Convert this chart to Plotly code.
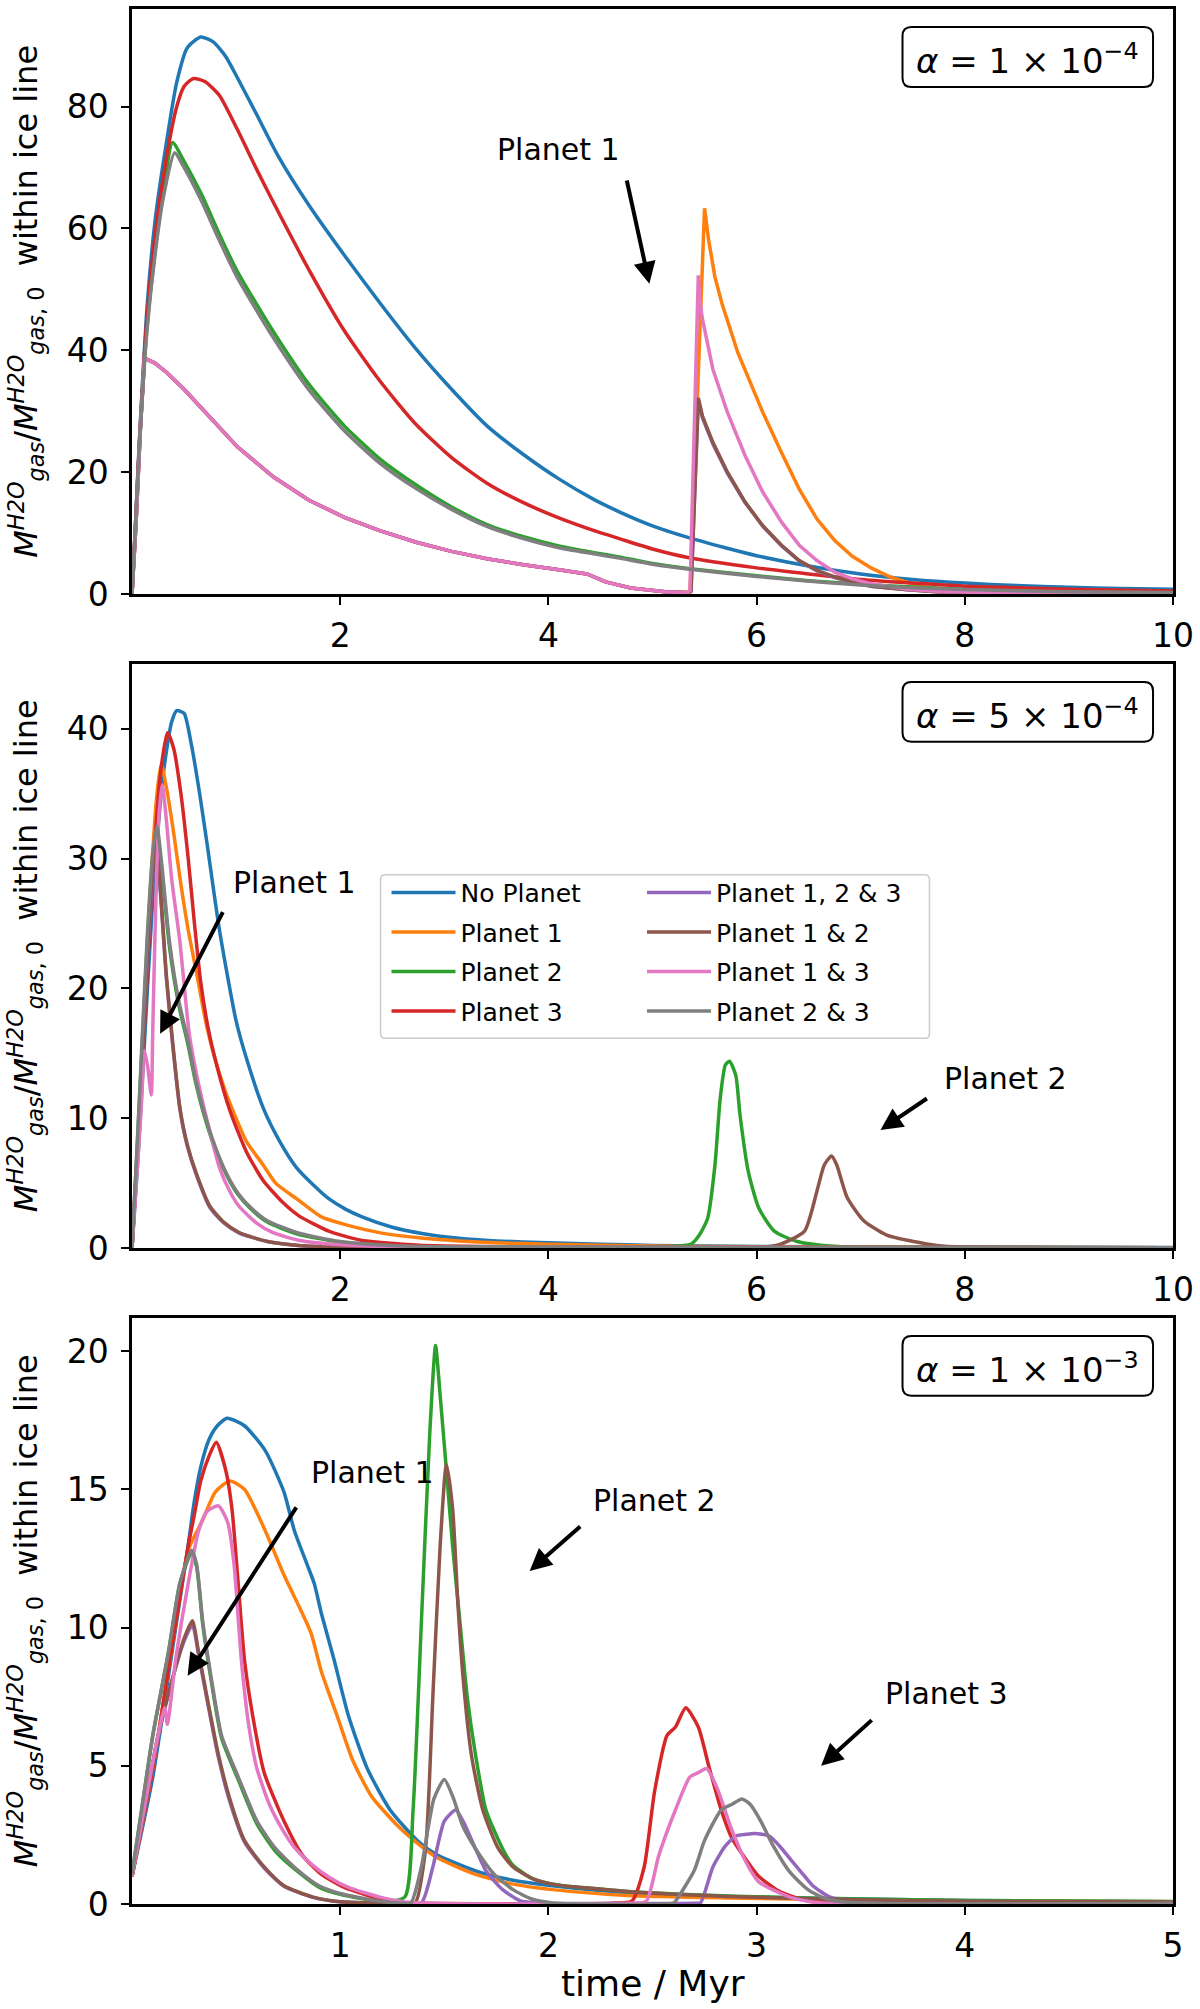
import plotly.graph_objects as go

FONT = "DejaVu Sans"

# ---------------- data (time in Myr, normalised water vapour mass) ----------------
# Panel 1: alpha = 1e-4
A1_NO_PLANET = [(0,0),(0.03,10),(0.07,25),(0.14,46),(0.22,61),(0.33,74),(0.43,84),(0.53,89.6),(0.66,91.4),
                (0.78,90.6),(0.9,88.2),(1.01,84.8),(1.2,78.6),(1.4,72),(1.7,63.8),(2.04,55.6),(2.38,47.8),
                (2.72,40.4),(3.07,33.6),(3.41,27.6),(3.76,22.9),(4.1,18.9),(4.44,15.5),(4.68,13.5),(5.0,11.2),
                (5.34,9.3),(5.7,7.6),(6.0,6.3),(6.5,4.6),(7.0,3.3),(7.5,2.4),(8.0,1.8),(8.5,1.4),(9.0,1.1),
                (9.5,0.9),(10,0.8)]
A1_PLANET_3 = [(0,0),(0.03,10),(0.07,24.5),(0.14,44.5),(0.22,58.5),(0.33,71.5),(0.43,80),(0.5,83.3),(0.59,84.6),
               (0.7,84.1),(0.84,81.8),(1.01,76.3),(1.2,69.6),(1.36,64.2),(1.7,53.2),(2.04,43.2),(2.38,35),
               (2.72,28),(3.07,22.4),(3.41,18.2),(3.76,15),(4.1,12.5),(4.44,10.4),(4.68,9.1),(5.0,7.4),
               (5.34,6.0),(6.0,4.3),(6.5,3.3),(7.0,2.4),(7.5,1.8),(8.0,1.3),(9.0,0.8),(10,0.5)]
A1_PLANET_2 = [(0,0),(0.03,10),(0.07,24),(0.14,43),(0.22,56),(0.3,66),(0.39,74.1),(0.5,71),(0.67,65.5),
               (0.84,59),(1.01,53),(1.36,43),(1.7,34.4),(2.04,27.6),(2.38,22.2),(2.73,17.9),(3.07,14.3),
               (3.41,11.4),(3.76,9.4),(4.1,7.9),(4.44,6.8),(4.68,6.1),(5.0,5.0),(5.34,4.2),(6.0,3.0),
               (6.5,2.2),(7.0,1.6),(7.5,1.15),(8.0,0.8),(9.0,0.45),(10,0.3)]
A1_PLANET_23 = [(0,0),(0.03,10),(0.07,24),(0.14,42.5),(0.22,55.5),(0.3,65),(0.41,72.4),(0.5,70),(0.67,64.4),
                (0.84,58),(1.01,52),(1.36,42),(1.7,33.5),(2.04,26.8),(2.38,21.5),(2.73,17.3),(3.07,13.9),
                (3.41,11.1),(3.76,9.1),(4.1,7.6),(4.44,6.6),(4.68,5.9),(5.0,4.9),(5.34,4.1),(6.0,2.9),
                (7.0,1.5),(8.0,0.75),(9.0,0.4),(10,0.25)]
# curves containing Planet 1 share this early part
A1_PLANET1_EARLY = [(0,0),(0.04,12),(0.08,27),(0.11,37),(0.12,38.7),(0.22,37.9),(0.33,36.4),(0.5,33.6),
                    (0.67,30.4),(0.84,27.3),(1.01,24.2),(1.36,19.2),(1.7,15.4),(2.04,12.6),(2.38,10.4),
                    (2.73,8.5),(3.07,7.0),(3.41,5.8),(3.76,4.8),(4.1,4.0),(4.37,3.3),(4.55,2.0),(4.79,1.0),
                    (5.12,0.4),(5.33,0.2)]
A1_PLANET_1_LATE = [(5.36,0.3),(5.50,63.3),(5.54,58),(5.60,52),(5.67,47.5),(5.82,39.6),(6.06,29.8),(6.24,23.2),
                    (6.41,17.2),(6.58,12.3),(6.75,8.8),(6.92,6.2),(7.1,4.3),(7.27,2.9),(7.45,1.9),(7.62,1.2),
                    (7.79,0.8),(8.14,0.4),(8.5,0.25),(9,0.15),(10,0.1)]
A1_PLANET_13_LATE = [(5.36,0.5),(5.44,52.3),(5.46,47.5),(5.48,45.1),(5.58,36.9),(5.72,29.8),(5.89,22.7),
                     (6.06,16.7),(6.24,11.8),(6.41,8.0),(6.58,5.5),(6.75,3.6),(6.92,2.5),(7.1,1.7),(7.45,0.8),
                     (7.8,0.4),(8.5,0.15),(10,0.05)]
A1_PLANET_12_LATE = [(5.37,0.5),(5.44,32.2),(5.48,29.2),(5.58,24.9),(5.72,20.0),(5.89,15.1),(6.06,11.2),
                     (6.24,8.0),(6.41,5.5),(6.58,3.9),(6.75,2.8),(6.92,2.0),(7.1,1.3),(7.45,0.7),(7.8,0.3),
                     (8.5,0.1),(10,0.05)]
A1_PLANET_123_LATE = [(5.37,0.5),(5.44,31.8),(5.48,28.9),(5.58,24.6),(5.72,19.8),(5.89,15.0),(6.06,11.1),
                      (6.24,7.9),(6.41,5.4),(6.58,3.8),(6.75,2.7),(6.92,1.9),(7.1,1.3),(7.45,0.7),(7.8,0.3),
                      (8.5,0.1),(10,0.05)]

# Panel 2: alpha = 5e-4
A2_NO_PLANET = [(0,0),(0.05,6),(0.1,13),(0.2,27),(0.3,36.5),(0.38,40.5),(0.43,41.4),(0.5,41.2),(0.57,38.8),
                (0.65,35),(0.72,31.2),(0.84,24.5),(1.0,17.5),(1.1,14.6),(1.26,10.8),(1.42,8.2),(1.58,6.2),
                (1.75,4.8),(1.89,3.8),(2.05,3.0),(2.21,2.4),(2.5,1.6),(2.8,1.1),(3.14,0.75),(3.5,0.55),
                (4,0.4),(4.5,0.3),(5,0.2),(6,0.12),(7,0.08),(8,0.06),(10,0.04)]
A2_PLANET_1 = [(0,0),(0.05,7),(0.1,15),(0.18,28),(0.24,35),(0.28,37.3),(0.33,35.5),(0.4,32),(0.47,28),
               (0.54,24.5),(0.62,21.2),(0.72,17),(0.8,14.5),(0.9,12),(1.0,10.0),(1.1,8.2),(1.26,6.4),
               (1.38,5.0),(1.58,3.8),(1.82,2.4),(2.05,1.8),(2.4,1.15),(2.8,0.75),(3.14,0.55),(3.5,0.4),
               (4,0.3),(5,0.15),(6,0.1),(8,0.05),(10,0.03)]
A2_PLANET_2 = [(0,0),(0.05,7.8),(0.1,16),(0.15,24),(0.2,30),(0.24,32),(0.28,29.5),(0.36,23.2),(0.45,18.7),
               (0.54,15.6),(0.61,12.8),(0.68,10.6),(0.8,7.6),(0.91,5.6),(1.02,4.1),(1.13,3.1),(1.3,2.0),
               (1.58,1.1),(2,0.45),(2.5,0.2),(3,0.1),(4,0.05),(5,0.04),(5.37,0.3),(5.45,1.0),(5.53,2.3),
               (5.6,6.4),(5.65,11.5),(5.70,14.1),(5.74,14.4),(5.80,13.3),(5.84,10.3),(5.92,5.9),(6.02,3.1),
               (6.17,1.3),(6.39,0.5),(6.7,0.15),(7,0.06),(10,0.02)]
A2_PLANET_3 = [(0,0),(0.05,7),(0.1,14),(0.2,29),(0.28,37),(0.34,39.7),(0.4,38.5),(0.47,35),(0.54,30),
               (0.6,25),(0.66,20.5),(0.73,17),(0.81,14.2),(0.94,10.6),(1.1,7.4),(1.26,5.2),(1.45,3.5),
               (1.6,2.5),(1.89,1.3),(2.2,0.6),(2.6,0.3),(3,0.15),(4,0.08),(10,0.02)]
A2_PLANET_123 = [(0,0),(0.05,6.8),(0.1,14.7),(0.15,22.6),(0.2,28.6),(0.24,30.4),(0.27,27.7),(0.3,24.2),
                 (0.33,20.8),(0.39,15.7),(0.46,10.7),(0.53,7.9),(0.62,5.6),(0.75,3.1),(0.88,1.95),(1.03,1.15),
                 (1.3,0.5),(1.6,0.2),(2,0.08),(3,0.03),(10,0.01)]
A2_PLANET_12 = [(0,0),(0.05,7),(0.1,15),(0.15,23),(0.2,29),(0.25,30.8),(0.27,28),(0.3,24.5),(0.33,21),
                (0.39,15.9),(0.46,10.8),(0.53,8),(0.62,5.7),(0.75,3.2),(0.88,2.0),(1.03,1.2),(1.3,0.5),
                (1.6,0.2),(2,0.08),(3,0.03),(5,0.01),(6.0,0.02),(6.23,0.3),(6.46,1.3),(6.58,4.4),(6.65,6.4),
                (6.72,7.1),(6.77,6.4),(6.87,3.9),(7.03,2.1),(7.25,1.0),(7.51,0.5),(7.73,0.2),(8,0.08),(10,0.02)]
A2_PLANET_13 = [(0,0),(0.05,6),(0.09,11),(0.12,15.2),(0.15,14),(0.185,11.8),(0.2,17),(0.23,27),(0.26,33.5),
                (0.29,35.7),(0.33,33),(0.38,28.5),(0.46,23.6),(0.55,16.5),(0.63,13),(0.71,10.2),(0.84,6.2),
                (0.95,4.2),(1.03,3.2),(1.2,1.9),(1.35,1.2),(1.6,0.6),(2,0.25),(2.5,0.1),(3,0.05),(10,0.01)]
A2_PLANET_23 = [(0,0),(0.05,8),(0.1,16.5),(0.15,24.5),(0.2,30.5),(0.24,32.5),(0.28,30),(0.36,23.6),(0.45,19),
                (0.54,15.9),(0.61,13),(0.68,10.8),(0.8,7.8),(0.91,5.7),(1.02,4.2),(1.13,3.2),(1.3,2.1),
                (1.58,1.2),(2,0.5),(2.5,0.2),(3,0.1),(10,0.02)]

# Panel 3: alpha = 1e-3
A3_NO_PLANET = [(0,1),(0.1,4.6),(0.2,9.5),(0.27,13.0),(0.3,14.6),(0.33,15.8),(0.37,16.8),(0.41,17.3),
                (0.457,17.57),(0.54,17.3),(0.64,16.4),(0.73,14.9),(0.78,13.5),(0.84,12.3),(0.875,11.6),
                (0.91,10.5),(0.97,8.85),(1.04,6.8),(1.13,4.9),(1.24,3.4),(1.37,2.3),(1.46,1.8),(1.65,1.2),
                (1.83,0.86),(2.02,0.66),(2.38,0.41),(2.86,0.27),(3.5,0.18),(4,0.13),(4.5,0.1),(5,0.08)]
A3_PLANET_1 = [(0,1),(0.1,4.9),(0.2,9.7),(0.27,12.8),(0.34,13.9),(0.4,14.9),(0.47,15.3),(0.54,15.0),
               (0.64,13.5),(0.73,11.9),(0.8,10.8),(0.86,9.8),(0.91,8.4),(0.99,6.7),(1.06,5.2),(1.15,3.9),
               (1.28,2.8),(1.37,2.2),(1.46,1.7),(1.65,1.07),(1.83,0.72),(2.02,0.52),(2.38,0.31),(2.86,0.22),
               (3.5,0.15),(4,0.12),(5,0.08)]
A3_PLANET_2 = [(0,1.07),(0.046,3.4),(0.1,6.1),(0.175,9.1),(0.23,11.6),(0.286,12.7),(0.31,12.2),(0.34,10.1),
               (0.38,8.1),(0.43,6.0),(0.51,4.5),(0.6,2.9),(0.69,1.9),(0.8,1.15),(0.9,0.6),(1.0,0.35),
               (1.19,0.1),(1.31,0.25),(1.35,3.4),(1.39,10.2),(1.43,17.0),(1.458,20.2),(1.48,18.4),
               (1.51,15.7),(1.54,12.95),(1.575,10.2),(1.61,7.5),(1.65,5.4),(1.70,3.4),(1.78,2.0),(1.83,1.4),
               (1.92,0.93),(2.02,0.72),(2.38,0.45),(2.86,0.29),(3.5,0.18),(4,0.13),(5,0.09)]
A3_PLANET_3 = [(0,1),(0.1,4.9),(0.2,9.7),(0.27,12.95),(0.3,14.1),(0.33,15.3),(0.37,16.2),(0.405,16.7),
               (0.45,15.7),(0.48,14.3),(0.51,11.6),(0.54,8.85),(0.58,6.8),(0.635,4.75),(0.73,3.0),
               (0.82,1.75),(0.91,1.07),(1.02,0.6),(1.19,0.18),(1.3,0.05),(2.3,0.03),(2.4,0.1),(2.46,1.34),
               (2.51,4.07),(2.57,6.1),(2.61,6.4),(2.66,7.1),(2.72,6.4),(2.77,5.0),(2.83,3.4),(2.88,2.4),
               (2.95,1.6),(3.01,1.0),(3.1,0.5),(3.16,0.3),(3.25,0.1),(3.5,0.03),(5,0.02)]
A3_PLANET_123 = [(0,1),(0.06,3.4),(0.12,5.9),(0.2,8.3),(0.25,9.5),(0.29,10.1),(0.32,9.0),(0.36,7.4),
                 (0.415,5.3),(0.47,3.7),(0.54,2.25),(0.635,1.3),(0.73,0.64),(0.87,0.24),(1.0,0.08),(1.3,0.03),
                 (1.39,0.04),(1.445,1.34),(1.50,3.0),(1.555,3.4),(1.59,3.0),(1.65,2.0),(1.70,1.2),(1.78,0.52),
                 (1.87,0.1),(2.0,0.03),(2.7,0.03),(2.73,0.04),(2.79,1.34),(2.85,2.1),(2.90,2.46),(2.95,2.52),
                 (2.99,2.55),(3.06,2.46),(3.11,2.1),(3.16,1.64),(3.22,1.1),(3.27,0.66),(3.34,0.3),(3.41,0.13),
                 (3.5,0.04),(5,0.02)]
A3_PLANET_12 = [(0,1),(0.06,3.4),(0.12,5.9),(0.2,8.3),(0.25,9.6),(0.29,10.25),(0.32,9.1),(0.36,7.5),
                (0.415,5.4),(0.47,3.8),(0.54,2.3),(0.635,1.34),(0.73,0.66),(0.87,0.25),(1.0,0.08),(1.3,0.03),
                (1.36,0.04),(1.41,2.0),(1.445,7.5),(1.48,12.95),(1.51,15.9),(1.54,14.3),(1.565,10.9),
                (1.59,8.2),(1.63,5.4),(1.685,3.4),(1.76,2.0),(1.83,1.34),(1.92,0.93),(2.02,0.72),(2.38,0.45),
                (2.86,0.27),(3.5,0.15),(4,0.1),(5,0.07)]
A3_PLANET_13 = [(0,1),(0.06,3.5),(0.12,5.9),(0.157,7.1),(0.17,6.5),(0.21,8.85),(0.27,11.6),(0.32,13.5),
                (0.36,14.2),(0.415,14.4),(0.46,13.8),(0.49,12.3),(0.525,8.85),(0.56,6.5),(0.6,4.9),(0.66,3.6),
                (0.73,2.6),(0.78,2.05),(0.86,1.45),(0.95,0.95),(1.04,0.6),(1.19,0.25),(1.35,0.05),(2.4,0.03),
                (2.47,0.1),(2.53,1.75),(2.61,3.4),(2.68,4.6),(2.72,4.75),(2.76,4.9),(2.81,4.2),(2.88,2.7),
                (2.95,1.5),(3.01,0.8),(3.16,0.25),(3.3,0.05),(5,0.02)]
A3_PLANET_23 = [(0,1.07),(0.046,3.4),(0.1,6.1),(0.175,9.1),(0.23,11.6),(0.286,12.8),(0.31,12.3),(0.34,10.2),
                (0.38,8.2),(0.43,6.1),(0.51,4.6),(0.6,3.0),(0.69,2.0),(0.8,1.2),(0.9,0.65),(1.0,0.38),
                (1.19,0.1),(1.3,0.03),(1.34,0.04),(1.39,1.34),(1.45,3.8),(1.50,4.5),(1.54,3.9),(1.59,2.8),
                (1.65,2.0),(1.74,1.07),(1.83,0.52),(1.92,0.18),(2.02,0.04),(2.6,0.03),(2.61,0.1),(2.70,1.2),
                (2.75,2.3),(2.83,3.4),(2.88,3.6),(2.93,3.8),(2.97,3.6),(3.02,3.0),(3.08,2.1),(3.16,1.15),
                (3.25,0.5),(3.33,0.2),(3.45,0.05),(5,0.02)]

SERIES_NAMES = ["No Planet", "Planet 1", "Planet 2", "Planet 3",
                "Planet 1, 2 & 3", "Planet 1 & 2", "Planet 1 & 3", "Planet 2 & 3"]
COLORS = ["#1f77b4", "#ff7f0e", "#2ca02c", "#d62728", "#9467bd", "#8c564b", "#e377c2", "#7f7f7f"]
ALPHA_LABELS = ["1 × 10<sup>−4</sup>", "5 × 10<sup>−4</sup>", "1 × 10<sup>−3</sup>"]
X_RANGES = [[0, 10], [0, 10], [0, 5]]
X_TICKS = [[2, 4, 6, 8, 10], [2, 4, 6, 8, 10], [1, 2, 3, 4, 5]]
Y_RANGES = [[0, 96], [0, 45], [0, 21.2]]
Y_TICKS = [[0, 20, 40, 60, 80], [0, 10, 20, 30, 40], [0, 5, 10, 15, 20]]

PANELS = [
    [A1_NO_PLANET, A1_PLANET1_EARLY + A1_PLANET_1_LATE, A1_PLANET_2, A1_PLANET_3,
     A1_PLANET1_EARLY + A1_PLANET_123_LATE, A1_PLANET1_EARLY + A1_PLANET_12_LATE,
     A1_PLANET1_EARLY + A1_PLANET_13_LATE, A1_PLANET_23],
    [A2_NO_PLANET, A2_PLANET_1, A2_PLANET_2, A2_PLANET_3, A2_PLANET_123, A2_PLANET_12, A2_PLANET_13, A2_PLANET_23],
    [A3_NO_PLANET, A3_PLANET_1, A3_PLANET_2, A3_PLANET_3, A3_PLANET_123, A3_PLANET_12, A3_PLANET_13, A3_PLANET_23],
]

# annotations: (panel, text, text_x, text_y, head_x, head_y, tail_x, tail_y)
ANNOTS = [
    (0, "Planet 1", 4.10, 72.9, 4.97, 50.9, 4.75, 68.1),
    (1, "Planet 1", 1.56, 28.2, 0.27, 16.5, 0.88, 26.0),
    (1, "Planet 2", 8.39, 13.1, 7.19, 9.1, 7.65, 11.6),
    (2, "Planet 1", 1.155, 15.6, 0.267, 8.26, 0.794, 14.4),
    (2, "Planet 2", 2.51, 14.6, 1.91, 12.05, 2.16, 13.7),
    (2, "Planet 3", 3.91, 7.6, 3.31, 5.0, 3.56, 6.7),
]

# ---------------- layout geometry (pixels) ----------------
W, H = 1200, 2009
ML, MR, MT, MB = 132, 25, 6, 105
PW = W - ML - MR
PH = H - MT - MB
PANEL_PX = [(6, 592), (662, 1247), (1317, 1904)]


def px2paper(px, py):
    return (px - ML) / PW, (H - MB - py) / PH


def rounded_rect(x0, y0, x1, y1, r):
    def P(x, y):
        a, b = px2paper(x, y)
        return f"{a:.5f},{b:.5f}"
    return (f"M{P(x0 + r, y0)} L{P(x1 - r, y0)} Q{P(x1, y0)} {P(x1, y0 + r)} "
            f"L{P(x1, y1 - r)} Q{P(x1, y1)} {P(x1 - r, y1)} L{P(x0 + r, y1)} "
            f"Q{P(x0, y1)} {P(x0, y1 - r)} L{P(x0, y0 + r)} Q{P(x0, y0)} {P(x0 + r, y0)} Z")


fig = go.Figure()

for pi, panel in enumerate(PANELS):
    xa = "x" if pi == 0 else f"x{pi + 1}"
    ya = "y" if pi == 0 else f"y{pi + 1}"
    for si, pairs in enumerate(panel):
        show = pi == 1
        sharp = (pi == 0 and si in (1, 4, 5, 6))
        fig.add_trace(go.Scatter(
            x=[p[0] for p in pairs], y=[p[1] for p in pairs],
            mode="lines", name=SERIES_NAMES[si],
            line=dict(color=COLORS[si], width=3.5,
                      shape="linear" if sharp else "spline", smoothing=0.6),
            xaxis=xa, yaxis=ya, showlegend=show,
            legend="legend" if si < 4 else "legend2",
            legendgroup=f"g{si}",
            hoverinfo="skip",
        ))

axis_common = dict(showline=True, linecolor="black", linewidth=2.5, mirror=True,
                   ticks="outside", ticklen=8, tickwidth=2, tickcolor="black",
                   showgrid=False, zeroline=False,
                   tickfont=dict(family=FONT, size=33, color="black"))

layout = dict(
    width=W, height=H,
    margin=dict(l=ML, r=MR, t=MT, b=MB),
    paper_bgcolor="white", plot_bgcolor="white",
    font=dict(family=FONT, color="black"),
    showlegend=True,
)

for pi in range(3):
    top_px, bot_px = PANEL_PX[pi]
    d0 = (H - MB - bot_px) / PH
    d1 = (H - MB - top_px) / PH
    xk = "xaxis" if pi == 0 else f"xaxis{pi + 1}"
    yk = "yaxis" if pi == 0 else f"yaxis{pi + 1}"
    xa = "x" if pi == 0 else f"x{pi + 1}"
    ya = "y" if pi == 0 else f"y{pi + 1}"
    layout[xk] = dict(axis_common, domain=[0, 1], range=X_RANGES[pi], tickvals=X_TICKS[pi],
                      anchor=ya, ticklabelstandoff=3)
    layout[yk] = dict(axis_common, domain=[max(0, d0), min(1, d1)], range=Y_RANGES[pi],
                      tickvals=Y_TICKS[pi], anchor=xa, ticklabelstandoff=6)

legend_common = dict(font=dict(family=FONT, size=25, color="black"), bgcolor="rgba(0,0,0,0)",
                     borderwidth=0, xanchor="left", yanchor="top", itemwidth=64,
                     tracegroupgap=4, traceorder="grouped")
lx1, ly = px2paper(387, 868)
lx2, _ = px2paper(643, 868)
layout["legend"] = dict(legend_common, x=lx1, y=ly)
layout["legend2"] = dict(legend_common, x=lx2, y=ly)

shapes = []
annotations = []

# legend frame
shapes.append(dict(type="path", xref="paper", yref="paper", path=rounded_rect(381, 873, 931, 1037, 5),
                   fillcolor="rgba(255,255,255,0.8)", line=dict(color="#cccccc", width=1.5), layer="above"))

for pi in range(3):
    top_px, bot_px = PANEL_PX[pi]
    x0, x1 = 904, 1155
    y0, y1 = top_px + 18, top_px + 78
    shapes.append(dict(type="path", xref="paper", yref="paper", path=rounded_rect(x0, y0, x1, y1, 9),
                       fillcolor="white", line=dict(color="black", width=2), layer="above"))
    cx, cy = px2paper((x0 + x1) / 2, (y0 + y1) / 2 + 2)
    annotations.append(dict(xref="paper", yref="paper", x=cx, y=cy, xanchor="center", yanchor="middle",
                            text="<i>α</i> = " + ALPHA_LABELS[pi], showarrow=False,
                            font=dict(family=FONT, size=34, color="black")))
    # y-axis label
    lx, lyy = px2paper(25, (top_px + bot_px) / 2)
    annotations.append(dict(xref="paper", yref="paper", x=lx, y=lyy, xanchor="center", yanchor="middle",
                            textangle=-90, showarrow=False,
                            text=("<i>M</i><sup><i>H2O</i></sup><sub><i>gas</i></sub>/"
                                  "<i>M</i><sup><i>H2O</i></sup><sub><i>gas</i>, 0</sub>  within ice line"),
                            font=dict(family=FONT, size=32, color="black")))

# x label
xlx, xly = px2paper(654, 1984)
annotations.append(dict(xref="paper", yref="paper", x=xlx, y=xly, xanchor="center", yanchor="middle",
                        text="time / Myr", showarrow=False, font=dict(family=FONT, size=36, color="black")))

for (pi, text, tx, ty, hx, hy, ax_, ay_) in ANNOTS:
    xr = "x" if pi == 0 else f"x{pi + 1}"
    yr = "y" if pi == 0 else f"y{pi + 1}"
    annotations.append(dict(xref=xr, yref=yr, x=tx, y=ty, text=text, showarrow=False,
                            xanchor="center", yanchor="middle",
                            font=dict(family=FONT, size=30, color="black")))
    annotations.append(dict(xref=xr, yref=yr, x=hx, y=hy, ax=ax_, ay=ay_, axref=xr, ayref=yr,
                            text="", showarrow=True, arrowhead=2, arrowsize=1.1, arrowwidth=4,
                            arrowcolor="black", standoff=0, startstandoff=0))

layout["shapes"] = shapes
layout["annotations"] = annotations
fig.update_layout(**layout)

# remove the browser's default 8px body margin so the figure sits at the page origin
fig.write_html("out.html", config={"displayModeBar": False},
               post_script="document.body.style.margin='0px';document.body.style.padding='0px';")
